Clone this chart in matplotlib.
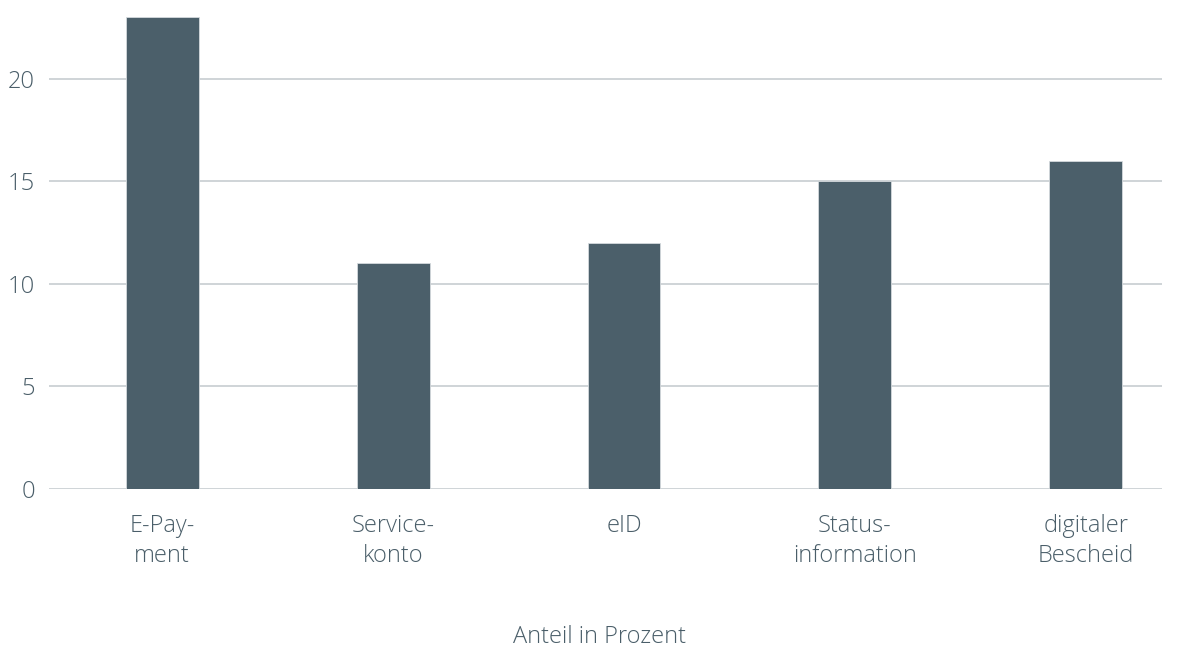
import matplotlib.pyplot as plt

# Daten
kategorien = ["E-Pay-\nment", "Service-\nkonto", "eID", "Status-\ninformation", "digitaler\nBescheid"]
anteile = [23, 11, 12, 15, 16]
y_ticks = [0, 5, 10, 15, 20]

BAR_COLOR = "#4b5f6a"
TEXT_COLOR = "#4a5e69"
GRID_COLOR = "#c2c9cd"

plt.rcParams['font.family'] = ['Open Sans', 'DejaVu Sans']

fig = plt.figure(figsize=(11.9, 6.53), dpi=100)
ax = fig.add_axes([0.0412, 0.2511, 0.9353, 0.7229])

x = list(range(len(kategorien)))
ax.bar(x, anteile, width=0.316, color=BAR_COLOR, edgecolor="#d5dadd", linewidth=0.6, zorder=3)

ax.set_xlim(-0.49, 4.33)
ax.set_ylim(0, 23)
ax.set_yticks(y_ticks)
ax.set_xticks(x)
ax.set_xticklabels(kategorien, linespacing=1.35)

ax.grid(axis="y", color=GRID_COLOR, linewidth=1.1, zorder=0)
for s in ax.spines.values():
    s.set_visible(False)
ax.tick_params(axis="both", length=0, labelsize=17, labelcolor=TEXT_COLOR)
ax.tick_params(axis="y", pad=10)
ax.tick_params(axis="x", pad=18)
for lab in ax.get_xticklabels() + ax.get_yticklabels():
    lab.set_fontweight("light")

fig.text(0.504, 0.016, "Anteil in Prozent", ha="center", va="baseline",
         fontsize=17, color=TEXT_COLOR, fontweight="light")

plt.savefig("out.png", dpi=100)
